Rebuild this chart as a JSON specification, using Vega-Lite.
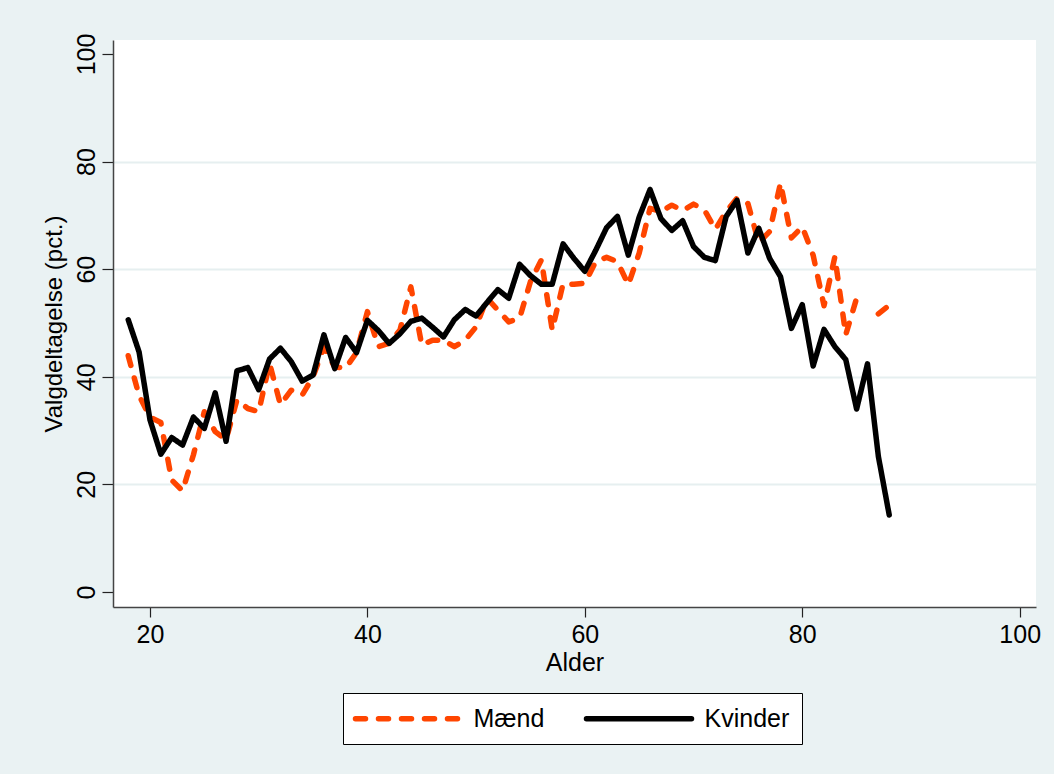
{
  "$schema": "https://vega.github.io/schema/vega-lite/v6.json",
  "autosize": {"type": "none"},
  "padding": {"left": 113, "top": 40, "right": 18, "bottom": 167},
  "width": 923,
  "height": 567,
  "background": "#eaf2f3",
  "config": {
    "view": {"fill": "white", "stroke": null},
    "font": "Liberation Sans",
    "axis": {
      "labelFont": "Liberation Sans",
      "titleFont": "Liberation Sans",
      "labelColor": "black",
      "titleColor": "black",
      "titleFontWeight": "normal",
      "domainColor": "#444444",
      "domainWidth": 1.5,
      "tickColor": "#222222",
      "tickWidth": 1.2
    },
    "legend": {
      "title": null,
      "orient": "none",
      "legendX": 230,
      "legendY": 653,
      "direction": "horizontal",
      "columns": 2,
      "symbolType": "M-5,0L5,0",
      "symbolSize": 441,
      "symbolStrokeWidth": 5.5,
      "symbolOffset": 39.5,
      "labelOffset": 52,
      "labelFontSize": 25,
      "labelFont": "Liberation Sans",
      "labelColor": "black",
      "padding": 12,
      "strokeColor": "black",
      "fillColor": "white",
      "columnPadding": 30
    }
  },
  "data": {
    "values": [
      {"Alder": 18, "Køn": "Mænd", "Valgdeltagelse": 43.9},
      {"Alder": 19, "Køn": "Mænd", "Valgdeltagelse": 36.5},
      {"Alder": 20, "Køn": "Mænd", "Valgdeltagelse": 32.5},
      {"Alder": 21, "Køn": "Mænd", "Valgdeltagelse": 31.5},
      {"Alder": 22, "Køn": "Mænd", "Valgdeltagelse": 20.8},
      {"Alder": 23, "Køn": "Mænd", "Valgdeltagelse": 18.8},
      {"Alder": 24, "Køn": "Mænd", "Valgdeltagelse": 25.5},
      {"Alder": 25, "Køn": "Mænd", "Valgdeltagelse": 33.5},
      {"Alder": 26, "Køn": "Mænd", "Valgdeltagelse": 29.8},
      {"Alder": 27, "Køn": "Mænd", "Valgdeltagelse": 28.3},
      {"Alder": 28, "Køn": "Mænd", "Valgdeltagelse": 35.7},
      {"Alder": 29, "Køn": "Mænd", "Valgdeltagelse": 34.1},
      {"Alder": 30, "Køn": "Mænd", "Valgdeltagelse": 33.5},
      {"Alder": 31, "Køn": "Mænd", "Valgdeltagelse": 42.5},
      {"Alder": 32, "Køn": "Mænd", "Valgdeltagelse": 34.8},
      {"Alder": 33, "Køn": "Mænd", "Valgdeltagelse": 37.5},
      {"Alder": 34, "Køn": "Mænd", "Valgdeltagelse": 36.6},
      {"Alder": 35, "Køn": "Mænd", "Valgdeltagelse": 40.0},
      {"Alder": 36, "Køn": "Mænd", "Valgdeltagelse": 45.5},
      {"Alder": 37, "Køn": "Mænd", "Valgdeltagelse": 41.8},
      {"Alder": 38, "Køn": "Mænd", "Valgdeltagelse": 41.6},
      {"Alder": 39, "Køn": "Mænd", "Valgdeltagelse": 44.5},
      {"Alder": 40, "Køn": "Mænd", "Valgdeltagelse": 52.1},
      {"Alder": 41, "Køn": "Mænd", "Valgdeltagelse": 45.6},
      {"Alder": 42, "Køn": "Mænd", "Valgdeltagelse": 46.2},
      {"Alder": 43, "Køn": "Mænd", "Valgdeltagelse": 48.7},
      {"Alder": 44, "Køn": "Mænd", "Valgdeltagelse": 56.7},
      {"Alder": 45, "Køn": "Mænd", "Valgdeltagelse": 45.9},
      {"Alder": 46, "Køn": "Mænd", "Valgdeltagelse": 46.8},
      {"Alder": 47, "Køn": "Mænd", "Valgdeltagelse": 46.8},
      {"Alder": 48, "Køn": "Mænd", "Valgdeltagelse": 45.6},
      {"Alder": 49, "Køn": "Mænd", "Valgdeltagelse": 46.8},
      {"Alder": 50, "Køn": "Mænd", "Valgdeltagelse": 49.3},
      {"Alder": 51, "Køn": "Mænd", "Valgdeltagelse": 54.6},
      {"Alder": 52, "Køn": "Mænd", "Valgdeltagelse": 52.4},
      {"Alder": 53, "Køn": "Mænd", "Valgdeltagelse": 50.2},
      {"Alder": 54, "Køn": "Mænd", "Valgdeltagelse": 50.9},
      {"Alder": 55, "Køn": "Mænd", "Valgdeltagelse": 57.7},
      {"Alder": 56, "Køn": "Mænd", "Valgdeltagelse": 61.7},
      {"Alder": 57, "Køn": "Mænd", "Valgdeltagelse": 48.7},
      {"Alder": 58, "Køn": "Mænd", "Valgdeltagelse": 57.3},
      {"Alder": 59, "Køn": "Mænd", "Valgdeltagelse": 57.2},
      {"Alder": 60, "Køn": "Mænd", "Valgdeltagelse": 57.4},
      {"Alder": 61, "Køn": "Mænd", "Valgdeltagelse": 61.4},
      {"Alder": 62, "Køn": "Mænd", "Valgdeltagelse": 62.2},
      {"Alder": 63, "Køn": "Mænd", "Valgdeltagelse": 61.4},
      {"Alder": 64, "Køn": "Mænd", "Valgdeltagelse": 57.1},
      {"Alder": 65, "Køn": "Mænd", "Valgdeltagelse": 63.0},
      {"Alder": 66, "Køn": "Mænd", "Valgdeltagelse": 71.3},
      {"Alder": 67, "Køn": "Mænd", "Valgdeltagelse": 70.7},
      {"Alder": 68, "Køn": "Mænd", "Valgdeltagelse": 71.9},
      {"Alder": 69, "Køn": "Mænd", "Valgdeltagelse": 70.9},
      {"Alder": 70, "Køn": "Mænd", "Valgdeltagelse": 72.1},
      {"Alder": 71, "Køn": "Mænd", "Valgdeltagelse": 71.0},
      {"Alder": 72, "Køn": "Mænd", "Valgdeltagelse": 67.4},
      {"Alder": 73, "Køn": "Mænd", "Valgdeltagelse": 70.7},
      {"Alder": 74, "Køn": "Mænd", "Valgdeltagelse": 73.2},
      {"Alder": 75, "Køn": "Mænd", "Valgdeltagelse": 72.2},
      {"Alder": 76, "Køn": "Mænd", "Valgdeltagelse": 64.9},
      {"Alder": 77, "Køn": "Mænd", "Valgdeltagelse": 67.0},
      {"Alder": 78, "Køn": "Mænd", "Valgdeltagelse": 76.0},
      {"Alder": 79, "Køn": "Mænd", "Valgdeltagelse": 65.8},
      {"Alder": 80, "Køn": "Mænd", "Valgdeltagelse": 67.9},
      {"Alder": 81, "Køn": "Mænd", "Valgdeltagelse": 62.6},
      {"Alder": 82, "Køn": "Mænd", "Valgdeltagelse": 53.2},
      {"Alder": 83, "Køn": "Mænd", "Valgdeltagelse": 62.3},
      {"Alder": 84, "Køn": "Mænd", "Valgdeltagelse": 47.8},
      {"Alder": 85, "Køn": "Mænd", "Valgdeltagelse": 54.6},
      {"Alder": 86, "Køn": "Mænd", "Valgdeltagelse": null},
      {"Alder": 87, "Køn": "Mænd", "Valgdeltagelse": 51.7},
      {"Alder": 88, "Køn": "Mænd", "Valgdeltagelse": 53.3},
      {"Alder": 18, "Køn": "Kvinder", "Valgdeltagelse": 50.6},
      {"Alder": 19, "Køn": "Kvinder", "Valgdeltagelse": 44.6},
      {"Alder": 20, "Køn": "Kvinder", "Valgdeltagelse": 32.0},
      {"Alder": 21, "Køn": "Kvinder", "Valgdeltagelse": 25.6},
      {"Alder": 22, "Køn": "Kvinder", "Valgdeltagelse": 28.7},
      {"Alder": 23, "Køn": "Kvinder", "Valgdeltagelse": 27.3},
      {"Alder": 24, "Køn": "Kvinder", "Valgdeltagelse": 32.5},
      {"Alder": 25, "Køn": "Kvinder", "Valgdeltagelse": 30.4},
      {"Alder": 26, "Køn": "Kvinder", "Valgdeltagelse": 37.0},
      {"Alder": 27, "Køn": "Kvinder", "Valgdeltagelse": 28.0},
      {"Alder": 28, "Køn": "Kvinder", "Valgdeltagelse": 41.1},
      {"Alder": 29, "Køn": "Kvinder", "Valgdeltagelse": 41.7},
      {"Alder": 30, "Køn": "Kvinder", "Valgdeltagelse": 37.6},
      {"Alder": 31, "Køn": "Kvinder", "Valgdeltagelse": 43.3},
      {"Alder": 32, "Køn": "Kvinder", "Valgdeltagelse": 45.3},
      {"Alder": 33, "Køn": "Kvinder", "Valgdeltagelse": 42.8},
      {"Alder": 34, "Køn": "Kvinder", "Valgdeltagelse": 39.2},
      {"Alder": 35, "Køn": "Kvinder", "Valgdeltagelse": 40.3},
      {"Alder": 36, "Køn": "Kvinder", "Valgdeltagelse": 47.8},
      {"Alder": 37, "Køn": "Kvinder", "Valgdeltagelse": 41.5},
      {"Alder": 38, "Køn": "Kvinder", "Valgdeltagelse": 47.3},
      {"Alder": 39, "Køn": "Kvinder", "Valgdeltagelse": 44.5},
      {"Alder": 40, "Køn": "Kvinder", "Valgdeltagelse": 50.5},
      {"Alder": 41, "Køn": "Kvinder", "Valgdeltagelse": 48.6},
      {"Alder": 42, "Køn": "Kvinder", "Valgdeltagelse": 46.2},
      {"Alder": 43, "Køn": "Kvinder", "Valgdeltagelse": 48.0},
      {"Alder": 44, "Køn": "Kvinder", "Valgdeltagelse": 50.3},
      {"Alder": 45, "Køn": "Kvinder", "Valgdeltagelse": 50.9},
      {"Alder": 46, "Køn": "Kvinder", "Valgdeltagelse": 49.2},
      {"Alder": 47, "Køn": "Kvinder", "Valgdeltagelse": 47.4},
      {"Alder": 48, "Køn": "Kvinder", "Valgdeltagelse": 50.6},
      {"Alder": 49, "Køn": "Kvinder", "Valgdeltagelse": 52.5},
      {"Alder": 50, "Køn": "Kvinder", "Valgdeltagelse": 51.3},
      {"Alder": 51, "Køn": "Kvinder", "Valgdeltagelse": 53.8},
      {"Alder": 52, "Køn": "Kvinder", "Valgdeltagelse": 56.2},
      {"Alder": 53, "Køn": "Kvinder", "Valgdeltagelse": 54.6},
      {"Alder": 54, "Køn": "Kvinder", "Valgdeltagelse": 60.9},
      {"Alder": 55, "Køn": "Kvinder", "Valgdeltagelse": 58.8},
      {"Alder": 56, "Køn": "Kvinder", "Valgdeltagelse": 57.2},
      {"Alder": 57, "Køn": "Kvinder", "Valgdeltagelse": 57.2},
      {"Alder": 58, "Køn": "Kvinder", "Valgdeltagelse": 64.7},
      {"Alder": 59, "Køn": "Kvinder", "Valgdeltagelse": 62.0},
      {"Alder": 60, "Køn": "Kvinder", "Valgdeltagelse": 59.6},
      {"Alder": 61, "Køn": "Kvinder", "Valgdeltagelse": 63.5},
      {"Alder": 62, "Køn": "Kvinder", "Valgdeltagelse": 67.7},
      {"Alder": 63, "Køn": "Kvinder", "Valgdeltagelse": 69.8},
      {"Alder": 64, "Køn": "Kvinder", "Valgdeltagelse": 62.6},
      {"Alder": 65, "Køn": "Kvinder", "Valgdeltagelse": 69.7},
      {"Alder": 66, "Køn": "Kvinder", "Valgdeltagelse": 74.8},
      {"Alder": 67, "Køn": "Kvinder", "Valgdeltagelse": 69.4},
      {"Alder": 68, "Køn": "Kvinder", "Valgdeltagelse": 67.2},
      {"Alder": 69, "Køn": "Kvinder", "Valgdeltagelse": 69.0},
      {"Alder": 70, "Køn": "Kvinder", "Valgdeltagelse": 64.2},
      {"Alder": 71, "Køn": "Kvinder", "Valgdeltagelse": 62.2},
      {"Alder": 72, "Køn": "Kvinder", "Valgdeltagelse": 61.6},
      {"Alder": 73, "Køn": "Kvinder", "Valgdeltagelse": 69.8},
      {"Alder": 74, "Køn": "Kvinder", "Valgdeltagelse": 72.8},
      {"Alder": 75, "Køn": "Kvinder", "Valgdeltagelse": 63.0},
      {"Alder": 76, "Køn": "Kvinder", "Valgdeltagelse": 67.6},
      {"Alder": 77, "Køn": "Kvinder", "Valgdeltagelse": 62.0},
      {"Alder": 78, "Køn": "Kvinder", "Valgdeltagelse": 58.6},
      {"Alder": 79, "Køn": "Kvinder", "Valgdeltagelse": 49.0},
      {"Alder": 80, "Køn": "Kvinder", "Valgdeltagelse": 53.4},
      {"Alder": 81, "Køn": "Kvinder", "Valgdeltagelse": 42.0},
      {"Alder": 82, "Køn": "Kvinder", "Valgdeltagelse": 48.8},
      {"Alder": 83, "Køn": "Kvinder", "Valgdeltagelse": 45.6},
      {"Alder": 84, "Køn": "Kvinder", "Valgdeltagelse": 43.2},
      {"Alder": 85, "Køn": "Kvinder", "Valgdeltagelse": 34.0},
      {"Alder": 86, "Køn": "Kvinder", "Valgdeltagelse": 42.4},
      {"Alder": 87, "Køn": "Kvinder", "Valgdeltagelse": 25.2},
      {"Alder": 88, "Køn": "Kvinder", "Valgdeltagelse": 14.3}
    ]
  },
  "mark": {"type": "line", "strokeWidth": 5.5, "strokeCap": "round", "strokeJoin": "round", "invalid": "break-paths-show-domains"},
  "encoding": {
    "x": {
      "field": "Alder",
      "type": "quantitative",
      "scale": {"domain": [16.6, 101.5], "nice": false, "zero": false},
      "axis": {
        "title": "Alder",
        "values": [20, 40, 60, 80, 100],
        "grid": false,
        "tickSize": 10,
        "labelFontSize": 25,
        "labelPadding": 5,
        "titleFontSize": 25,
        "titlePadding": 3
      }
    },
    "y": {
      "field": "Valgdeltagelse",
      "type": "quantitative",
      "scale": {"domain": [-2.8, 102.6], "nice": false, "zero": false},
      "axis": {
        "title": "Valgdeltagelse (pct.)",
        "values": [0, 20, 40, 60, 80, 100],
        "grid": true,
        "gridColor": {"condition": {"test": "datum.value === 0 || datum.value === 100", "value": "transparent"}, "value": "#e6eff0"},
        "gridWidth": 2,
        "tickSize": 11,
        "labelAngle": -90,
        "labelAlign": "center",
        "labelBaseline": "bottom",
        "labelFontSize": 25,
        "labelPadding": 3,
        "titleFontSize": 24,
        "titlePadding": 8
      }
    },
    "color": {
      "field": "Køn",
      "type": "nominal",
      "scale": {"domain": ["Mænd", "Kvinder"], "range": ["#ff4500", "#000000"]},
      "legend": {
        "encode": {"symbols": {"update": {"strokeCap": {"value": "round"}}}}
      }
    },
    "strokeDash": {
      "field": "Køn",
      "type": "nominal",
      "scale": {"domain": ["Mænd", "Kvinder"], "range": [[10, 13], [1, 0]]},
      "legend": {
        "encode": {"symbols": {"update": {"strokeCap": {"value": "round"}}}}
      }
    }
  }
}
